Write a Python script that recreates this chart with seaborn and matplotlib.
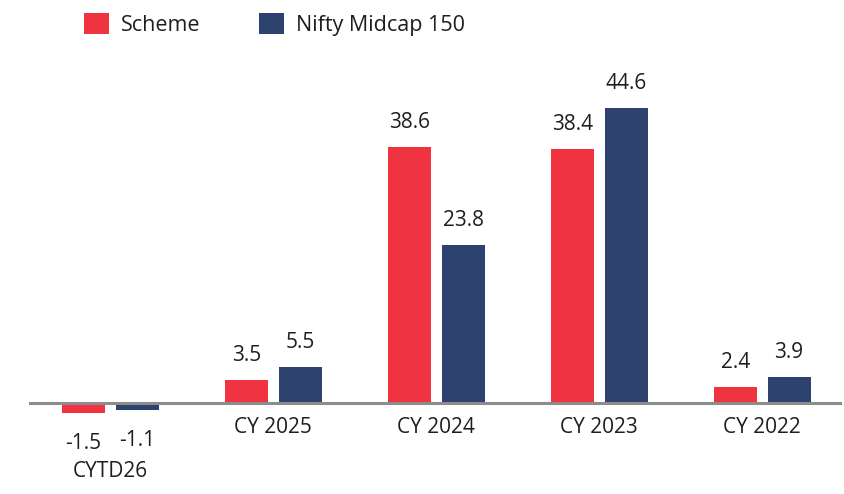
import pandas as pd
import matplotlib
matplotlib.use("Agg")
import matplotlib.pyplot as plt
from matplotlib.patches import Patch
import seaborn as sns

# --------------------------------------------------------------
# Data
# --------------------------------------------------------------
periods = ["CYTD26", "CY 2025", "CY 2024", "CY 2023", "CY 2022"]
scheme = [-1.5, 3.5, 38.6, 38.4, 2.4]
nifty_midcap = [-1.1, 5.5, 23.8, 44.6, 3.9]
series_names = ["Scheme", "Nifty Midcap 150"]
colors = ["#ef3340", "#2e4270"]

df = pd.DataFrame(
    {
        "period": periods * 2,
        "series": [series_names[0]] * len(periods) + [series_names[1]] * len(periods),
        "value": scheme + nifty_midcap,
    }
)

# --------------------------------------------------------------
# Plot
# --------------------------------------------------------------
sns.set_style("white")
plt.rcParams["font.family"] = ["Open Sans", "DejaVu Sans"]
text_color = "#1e1e1e"

fig = plt.figure(figsize=(8.44, 4.94), dpi=100)
ax = fig.add_axes([29 / 844, 0, 813 / 844, 1])

sns.barplot(
    data=df,
    x="period",
    y="value",
    hue="series",
    order=periods,
    hue_order=series_names,
    palette=colors,
    saturation=1,
    width=0.66,
    gap=0.2,
    linewidth=0,
    legend=False,
    ax=ax,
)

ax.set_xlim(-0.5, 4.49)
ax.set_ylim(-13.75, 60.88)
ax.axhline(0, color="#8c8c8c", lw=2.2, zorder=3)
for s in ax.spines.values():
    s.set_visible(False)
ax.set_xticks([])
ax.set_yticks([])
ax.set_xlabel("")
ax.set_ylabel("")

# value labels
for cont, vals in zip(ax.containers, [scheme, nifty_midcap]):
    for bar, v in zip(cont, vals):
        x = bar.get_x() + bar.get_width() / 2
        off = 19 if v >= 0 else -36
        ax.annotate(
            f"{v:.1f}",
            xy=(x, v),
            xytext=(0, off),
            textcoords="offset pixels",
            ha="center",
            va="baseline",
            fontsize=15,
            color=text_color,
        )

# category labels, negative period sits below its value labels
for i, (p, s) in enumerate(zip(periods, scheme)):
    off = -74 if s < 0 else -30
    ax.annotate(
        p,
        xy=(i, 0),
        xytext=(0, off),
        textcoords="offset pixels",
        ha="center",
        va="baseline",
        fontsize=15,
        color=text_color,
    )

handles = [Patch(facecolor=c, edgecolor="none") for c in colors]
fig.legend(
    handles,
    series_names,
    loc="upper left",
    bbox_to_anchor=(84 / 844, 1 - 13 / 494),
    ncol=2,
    frameon=False,
    fontsize=15.5,
    handlelength=1.15,
    handleheight=1.15,
    handletextpad=0.55,
    columnspacing=2.75,
    borderpad=0,
    borderaxespad=0,
    labelcolor=text_color,
)

plt.savefig("out.png", dpi=100)
